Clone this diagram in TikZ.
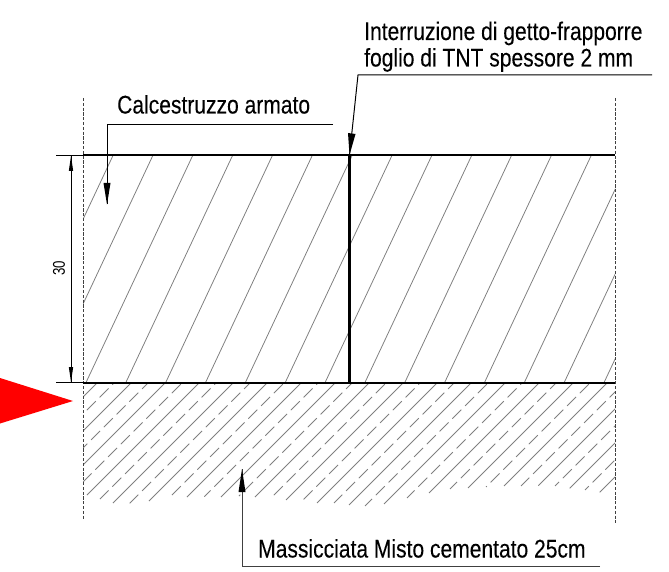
\documentclass[tikz,border=0pt]{standalone}
\usepackage{fontspec}
\newfontfamily\labelfont[FakeStretch=0.825,FakeBold=0.12]{Liberation Sans}
\newfontfamily\dimfont[FakeStretch=0.78]{Liberation Sans}
\tikzset{
  hatchline/.style={draw=black!50,line width=0.8pt},
  mainline/.style={draw=black,line width=2pt},
  edgeline/.style={draw=black!75,line width=0.9pt,dash pattern=on 3.2pt off 1.6pt},
  leader/.style={draw=black,line width=1pt},
  labeltext/.style={inner sep=0pt,anchor=base west,font=\labelfont\fontsize{25.5}{26}\selectfont},
  headtip/.style={fill=black,draw=none}
}
\begin{document}
\begin{tikzpicture}[x=1pt,y=-1pt]
\useasboundingbox (0,0) rectangle (669,572);
% upper hatch
\begin{scope}
\clip (83,155.5) rectangle (615,382.5);
\foreach \k in {-1,0,...,18}{
  \pgfmathsetmacro{\xt}{113+39.85*\k}
  \draw[hatchline] (\xt,155.5) -- ({\xt-0.47*227},382.5);
}
\end{scope}
% lower hatch
\begin{scope}
\clip (83,382.5) rectangle (615,530);
\foreach \s/\ey in {480/510,514/510,548/510,582/495,616/503,650/501,684/497,718/497,752/497,786/500,820/503,854/505,888/504,922/493,956/488,990/486,1024/485.7,1058/488.3,1092/492.3}{
  \draw[hatchline] ({\s-382.5},382.5) -- ({\s-\ey},\ey);
}
\foreach \n/\s/\ey in {0/497/510,1/531/510,2/565/510,3/599/499,4/633/503.3,5/667/495,6/701/496.7,7/735/496,8/769/498,9/803/500,10/837/503,11/871/506,12/905/498,13/939/489,14/973/487,15/1007/486,16/1041/486,17/1075/490}{
  \pgfmathsetmacro{\xe}{\s-\ey}
  \pgfmathsetmacro{\ph}{mod(\xe-10.3-4.25*\n+1275,12.75)*1.4142}
  \draw[hatchline,dash pattern=on 12.7pt off 5.33pt,dash phase=\ph pt] (\xe,\ey) -- ({\s-382.5},382.5);
}
\end{scope}
% edges
\coordinate (ltop) at (83,98);
\coordinate (lbot) at (83,519);
\coordinate (rtop) at (615,98);
\coordinate (rbot) at (615,523);
\draw[edgeline] (ltop) -- (lbot);
\draw[edgeline] (rtop) -- (rbot);
\coordinate (tl) at (56,155.5);
\coordinate (tr) at (615,155.5);
\coordinate (bl) at (56,382.5);
\coordinate (br) at (615,382.5);
\draw[mainline] (83,155.5) -- (tr);
\draw[leader] (tl) -- (83,155.5);
\draw[mainline] (83,382.5) -- (br);
\draw[leader] (bl) -- (83,382.5);
\coordinate (wt) at (349.5,155.5);
\coordinate (wb) at (349.5,382.5);
\draw[draw=black,line width=3.6pt] (wt) -- (wb);
% dimension
\coordinate (dt) at (71,156);
\coordinate (db) at (71,382);
\draw[leader] (dt) -- (db);
\fill[headtip] (dt) -- (73.2,171) -- (68.8,171) -- cycle;
\fill[headtip] (db) -- (73.2,367) -- (68.8,367) -- cycle;
\node[inner sep=0pt,rotate=90,font=\dimfont\fontsize{17}{17}\selectfont] (dim) at (59,268) {30};
% leaders
\node[labeltext] (lc) at (117,113.5) {Calcestruzzo armato};
\coordinate (la) at (333,125);
\coordinate (lb) at (107,125);
\coordinate (lt) at (107,204.5);
\draw[leader] (la) -- (lb) -- (lt);
\fill[headtip] (lt) -- (110.5,183) -- (103.5,183) -- cycle;
\node[labeltext] (li) at (364,40) {Interruzione di getto-frapporre};
\node[labeltext] (lf) at (364,66.5) {foglio di TNT spessore 2 mm};
\coordinate (ia) at (652,75);
\coordinate (ib) at (358,75);
\coordinate (it) at (349.5,155);
\draw[leader] (ia) -- (ib) -- (it);
\fill[headtip] (it) -- (348,133) -- (355.5,134) -- cycle;
\node[labeltext] (lm) at (258,557.5) {Massicciata Misto cementato 25cm};
\coordinate (ma) at (600,566.5);
\coordinate (mb) at (242,566.5);
\coordinate (mt) at (242,469);
\draw[leader,draw=black!75] (ma) -- (mb) -- (mt);
\fill[headtip] (mt) -- (245.5,492) -- (238.5,492) -- cycle;
% red marker
\coordinate (ra) at (0,378);
\coordinate (rb) at (73,401);
\coordinate (rc) at (0,423.5);
\fill[red] (ra) -- (rb) -- (rc) -- cycle;
\end{tikzpicture}
\end{document}
